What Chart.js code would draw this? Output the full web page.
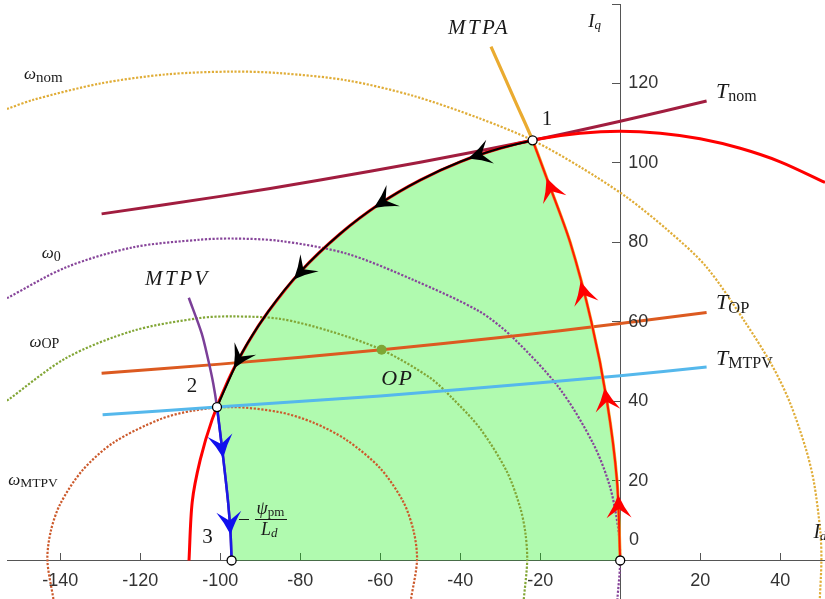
<!DOCTYPE html>
<html>
<head>
<meta charset="utf-8">
<script src="https://cdn.jsdelivr.net/npm/chart.js@4.4.1/dist/chart.umd.min.js"></script>
<style>
  html, body { margin: 0; padding: 0; background: #fff; }
  #wrap { position: relative; width: 825px; height: 599px; }
</style>
</head>
<body>
<div id="wrap"><canvas id="c"></canvas></div>
<script>
// ---- axis ticks ----
const idTicks = [-140, -120, -100, -80, -60, -40, -20, 20, 40];
const idTickLabels = ['-140', '-120', '-100', '-80', '-60', '-40', '-20', '20', '40'];
const iqTicks = [20, 40, 60, 80, 100, 120, 140];
const iqTickLabels = ['20', '40', '60', '80', '100', '120', ''];

// ---- operating points [Id, Iq] ----
const point0 = [0, 0];
const point1 = [-21.9, 105.7];
const point2 = [-100.8, 38.6];
const point3 = [-97.15, 0];
const pointOP = [-59.65, 53.0];

// ---- current limit circle ----
const currentLimit = [
  [-107.8, 0], [-107, 14.7], [-105, 25.3], [-102, 35.5], [-98, 45.4], [-93, 54.9],
  [-88, 62.6], [-80, 72.6], [-70, 82.2], [-60, 89.8], [-50, 95.7], [-40, 100.3],
  [-30, 103.7], [-20, 106.1], [-10, 107.5], [0, 108], [10, 107.5], [20, 106.1],
  [30, 103.7], [40, 100.3], [51.2, 95.1]
];

// ---- MTPA curve (gold) and the trajectory 0 -> 1 along it ----
const mtpa = [
  [0, 0], [-0.8, 20], [-3.3, 40], [-7.2, 60], [-12.5, 80], [-18.3, 96],
  [-21.9, 105.7], [-26, 115], [-32.3, 129.3]
];
const path01 = [
  [0, 0], [-0.8, 20], [-3.3, 40], [-7.2, 60], [-12.5, 80], [-18.3, 96], [-21.9, 105.7]
];

// ---- trajectory 1 -> 2 along the current limit ----
const path12 = [
  [-21.9, 105.7], [-30, 103.7], [-40, 100.3], [-50, 95.7], [-60, 89.8], [-70, 82.2],
  [-80, 72.6], [-88, 62.6], [-95, 51.4], [-100.8, 38.6]
];

// ---- MTPV curve and trajectory 2 -> 3 ----
const mtpv = [
  [-107.85, 66.1], [-104.65, 57.2], [-103, 50.5], [-101.75, 44.6], [-100.8, 38.6],
  [-99.25, 25.8], [-98, 14.4], [-97.4, 6.5], [-97.15, 0]
];
const path23 = [
  [-100.8, 38.6], [-99.25, 25.8], [-98, 14.4], [-97.4, 6.5], [-97.15, 0]
];

// ---- torque curves ----
const torqueNom = [
  [-129.65, 87.2], [-100, 91.6], [-75, 95.7], [-50, 100.2], [-21.9, 105.7], [0, 110.5], [21.6, 115.6]
];
const torqueOP = [
  [-129.65, 47.1], [-100, 49.4], [-59.65, 53.0], [-30, 56.1], [0, 59.6], [21.6, 62.4]
];
const torqueMTPV = [
  [-129.4, 36.65], [-100.8, 38.6], [-60, 41.4], [-20, 44.7], [0, 46.5], [21.6, 48.65]
];

// ---- voltage limit ellipses ----
const omegaNom = [
  [-153.3, 113.6], [-146.7, 115.9], [-130, 120], [-113.4, 122.3], [-97, 123], [-85.1, 122.6],
  [-68.4, 120.8], [-51.75, 116.9], [-35.1, 111.2], [-21.9, 105.7], [-10, 99], [1.6, 91.4],
  [12, 83], [21.6, 73.8], [31.6, 59.4], [38, 49], [42.4, 39.8], [46.5, 27.8], [48.5, 19.3],
  [50.05, 7], [50.3, 0], [49.9, -9.7]
];
const omega0 = [
  [-153.3, 66], [-138.4, 73.8], [-121.75, 78.8], [-105.1, 80.7], [-97, 81], [-85.1, 80.4],
  [-68.4, 77.2], [-51.75, 70.6], [-35.1, 62.6], [-26.75, 56], [-15.1, 43.2], [-6.7, 29.3],
  [-2.6, 18.7], [-0.5, 8.1], [0, 0], [-0.7, -9.7]
];
const omegaOP = [
  [-153.3, 40.2], [-138.4, 51], [-121.75, 57.8], [-105.1, 61], [-97, 61.4], [-85.1, 60.8],
  [-72.6, 57.7], [-59.65, 53.0], [-47.6, 46], [-41.75, 40.6], [-35.1, 33.3], [-28.4, 22.5],
  [-25, 13.3], [-23.7, 6.9], [-23.25, 0], [-24.1, -9.7]
];
const omegaMTPV = [
  [-141.7, -9.7], [-143.2, 0], [-142.4, 7.2], [-140, 14.2], [-134.5, 22.6], [-126.75, 29.6],
  [-115.1, 35.5], [-106.75, 37.7], [-97, 38.6], [-85.1, 37.3], [-76.75, 34.7], [-68.4, 30.3],
  [-60.1, 23.3], [-54.25, 14.8], [-51.6, 7.2], [-50.8, 0], [-52.3, -9.7]
];

// ---- direction arrows: [tipId, tipIq, fromId, fromIq] ----
const arrows01 = [
  [-0.5, 16.5, -0.1, 6], [-3.9, 43.4, -2.2, 32], [-9.9, 70.2, -7, 59], [-18.4, 96.2, -14.2, 85]
];
const arrows12 = [
  [-38.0, 101.1, -30, 103.7], [-61.6, 88.7, -55, 92.9], [-81.6, 70.7, -76, 76.7], [-96.6, 48.3, -92, 56.3]
];
const arrows23 = [
  [-99.25, 25.8, -100.4, 34], [-97.4, 6.5, -98, 14.4]
];

// ---------------------------------------------------------------
const pts = a => a.map(p => ({ x: p[0], y: p[1] }));
function curve(data, color, width, order, extra) {
  return Object.assign({
    data: pts(data), borderColor: color, borderWidth: width, showLine: true,
    pointRadius: 0, pointHoverRadius: 0, tension: 0.3, fill: false, order: order
  }, extra || {});
}
const dotted = { borderDash: [2.2, 1.6] };

// operating region: up the MTPA, along the current limit, down the MTPV
const region = path01.concat(path12.slice(1), path23.slice(1));

const datasets = [
  curve(region, 'rgba(0,0,0,0)', 0, 30, { fill: 'shape', backgroundColor: 'rgba(10,240,5,0.32)', tension: 0 }),
  curve(omegaNom, '#e0ad38', 2.2, 20, dotted),
  curve(omega0, '#87459a', 2.2, 19, dotted),
  curve(omegaOP, '#82a636', 2.2, 18, dotted),
  curve(omegaMTPV, '#cc5a2c', 2.2, 17, dotted),
  curve(torqueNom, '#a11d3f', 3, 15),
  curve(torqueOP, '#dc5a20', 3, 14),
  curve(torqueMTPV, '#55b8ec', 3, 13),
  curve(mtpa, '#eaab30', 3.2, 12),
  curve(mtpv, '#7b3f98', 2.5, 11),
  curve(currentLimit, '#ff0000', 3, 10),
  curve(path12, '#000000', 2, 8),
  curve(path01, '#ff1a00', 2, 7),
  curve(path23, '#1a1ae6', 2.5, 6),
  { data: pts([pointOP]), showLine: false, pointRadius: 5, pointBorderWidth: 0,
    pointBackgroundColor: '#7ea634', pointBorderColor: '#7ea634', order: 2 },
  { data: pts([point0, point1, point2, point3]), showLine: false, pointRadius: 4.5,
    pointBorderWidth: 1.3, pointBackgroundColor: '#ffffff', pointBorderColor: '#000000', order: 1 }
];

const SERIF = '"Liberation Serif", "DejaVu Serif", serif';
const SANS = '"Liberation Sans", Arial, sans-serif';
const it = s => 'italic ' + s + 'px ' + SERIF;
const rm = s => s + 'px ' + SERIF;

// text annotations: anchor in data units, pieces [text, font, baselineShift]
const annotations = [
  { at: [-149.05, 121.1], parts: [['ω', it(17)], ['nom', rm(15), 3]] },
  { at: [-144.6, 76.1], parts: [['ω', it(17)], ['0', rm(14), 3.5]] },
  { at: [-147.7, 53.8], parts: [['ω', it(17)], ['OP', rm(14), 1.5]] },
  { at: [-153.0, 19.0], parts: [['ω', it(17)], ['MTPV', rm(13.5), 1.7]] },
  { at: [-35.3, 132.5], align: 'center', spacing: 2.5, parts: [['MTPA', it(21)]] },
  { at: [-110.7, 69.4], align: 'center', spacing: 2.5, parts: [['MTPV', it(21)]] },
  { at: [-55.7, 44.1], align: 'center', spacing: 1.5, parts: [['OP', it(22)]] },
  { at: [-18.3, 109.6], align: 'center', parts: [['1', rm(21)]] },
  { at: [-107.05, 42.4], align: 'center', parts: [['2', rm(21)]] },
  { at: [-103.2, 4.4], align: 'center', parts: [['3', rm(21)]] },
  { at: [23.95, 116.3], parts: [['T', it(22)], ['nom', rm(16), 2.5]] },
  { at: [23.95, 63.2], parts: [['T', it(22)], ['OP', rm(16.5), 3.5]] },
  { at: [23.95, 49.2], parts: [['T', it(22)], ['MTPV', rm(16), 3.5]] },
  { at: [-7.98, 134.1], parts: [['I', it(19)], ['q', it(13), 2]] },
  { at: [48.3, 5.6], parts: [['I', it(20)], ['d', it(13), 2]] }
];
const fractionAt = [-91.3, 10.4];

function drawParts(ctx, x, y, a) {
  ctx.save();
  ctx.fillStyle = '#1a1a1a';
  ctx.textBaseline = 'alphabetic';
  ctx.textAlign = 'left';
  ctx.letterSpacing = (a.spacing || 0) + 'px';
  let w = 0;
  a.parts.forEach(p => { ctx.font = p[1]; w += ctx.measureText(p[0]).width; });
  let cx = a.align === 'center' ? x - w / 2 : x;
  a.parts.forEach(p => {
    ctx.font = p[1];
    ctx.fillText(p[0], cx, y + (p[2] || 0));
    cx += ctx.measureText(p[0]).width;
  });
  ctx.restore();
}

// stealth-style arrowhead with its tip on the path
function drawArrow(ctx, xs, ys, a, color) {
  const tx = xs.getPixelForValue(a[0]), ty = ys.getPixelForValue(a[1]);
  const fx = xs.getPixelForValue(a[2]), fy = ys.getPixelForValue(a[3]);
  const ang = Math.atan2(ty - fy, tx - fx);
  ctx.save();
  ctx.translate(tx, ty);
  ctx.rotate(ang);
  ctx.beginPath();
  ctx.moveTo(0, 0);
  ctx.quadraticCurveTo(-13, -5.5, -23, -12.5);
  ctx.lineTo(-14, 0);
  ctx.lineTo(-23, 12.5);
  ctx.quadraticCurveTo(-13, 5.5, 0, 0);
  ctx.closePath();
  ctx.fillStyle = color;
  ctx.fill();
  ctx.restore();
}

const overlay = {
  id: 'overlay',
  afterDatasetsDraw(chart) {
    const { ctx, scales: { x, y } } = chart;
    arrows01.forEach(a => drawArrow(ctx, x, y, a, '#ff0000'));
    arrows12.forEach(a => drawArrow(ctx, x, y, a, '#000000'));
    arrows23.forEach(a => drawArrow(ctx, x, y, a, '#1010ee'));
  },
  afterDraw(chart) {
    const { ctx, scales: { x, y } } = chart;
    const x0 = x.getPixelForValue(0);
    // Iq tick labels sit to the right of the axis
    ctx.save();
    ctx.font = '18px ' + SANS;
    ctx.fillStyle = '#333333';
    ctx.textAlign = 'left';
    ctx.textBaseline = 'middle';
    iqTicks.forEach((v, i) => {
      if (iqTickLabels[i]) ctx.fillText(iqTickLabels[i], x0 + 8, y.getPixelForValue(v));
    });
    ctx.textBaseline = 'alphabetic';
    ctx.fillText('0', x.getPixelForValue(2.2), y.getPixelForValue(3.9));
    ctx.restore();

    annotations.forEach(a => drawParts(ctx, x.getPixelForValue(a.at[0]), y.getPixelForValue(a.at[1]), a));

    // -psi_pm / L_d
    const fx = x.getPixelForValue(fractionAt[0]);
    const fy = Math.round(y.getPixelForValue(fractionAt[1])) + 0.5;
    ctx.save();
    ctx.strokeStyle = '#1a1a1a';
    ctx.lineWidth = 1;
    ctx.beginPath();
    ctx.moveTo(fx - 16, fy); ctx.lineTo(fx - 6, fy);
    ctx.moveTo(fx, fy); ctx.lineTo(fx + 32, fy);
    ctx.stroke();
    ctx.fillStyle = '#1a1a1a';
    ctx.textBaseline = 'alphabetic';
    ctx.font = it(18);
    ctx.fillText('ψ', fx + 1.5, fy - 6);
    let w = ctx.measureText('ψ').width;
    ctx.font = rm(13);
    ctx.fillText('pm', fx + 1.5 + w, fy - 4);
    ctx.font = it(18);
    ctx.fillText('L', fx + 6, fy + 15.5);
    w = ctx.measureText('L').width;
    ctx.font = it(13);
    ctx.fillText('d', fx + 6 + w, fy + 17.5);
    ctx.restore();
  }
};

// axes sit inside the plot, so they should not pad the chart area
const noPadding = s => { s.paddingLeft = 0; s.paddingRight = 0; s.paddingTop = 0; s.paddingBottom = 0; };

new Chart(document.getElementById('c'), {
  type: 'scatter',
  data: { datasets },
  plugins: [overlay],
  options: {
    responsive: true,
    maintainAspectRatio: false,
    animation: false,
    events: [],
    layout: { autoPadding: false, padding: { left: 7, top: 4, right: 0, bottom: 0 } },
    plugins: { legend: { display: false }, tooltip: { enabled: false } },
    scales: {
      x: {
        type: 'linear', min: -153.3, max: 51.2, position: { y: 0 },
        afterBuildTicks: s => { s.ticks = idTicks.map(v => ({ value: v })); },
        afterFit: noPadding,
        grid: { drawOnChartArea: false, drawTicks: true, tickLength: -8, color: '#555555', lineWidth: 1 },
        border: { display: true, color: '#555555', width: 1 },
        ticks: {
          font: { family: SANS, size: 18 }, color: '#333333', padding: 18,
          maxRotation: 0, autoSkip: false,
          callback: v => idTickLabels[idTicks.indexOf(v)] || ''
        }
      },
      y: {
        type: 'linear', min: -9.69, max: 140, position: { x: 0 },
        afterBuildTicks: s => { s.ticks = iqTicks.map(v => ({ value: v })); },
        afterFit: noPadding,
        grid: { drawOnChartArea: false, drawTicks: true, tickLength: 8, color: '#555555', lineWidth: 1 },
        border: { display: true, color: '#555555', width: 1 },
        ticks: { display: false }
      }
    }
  }
});
</script>
</body>
</html>
